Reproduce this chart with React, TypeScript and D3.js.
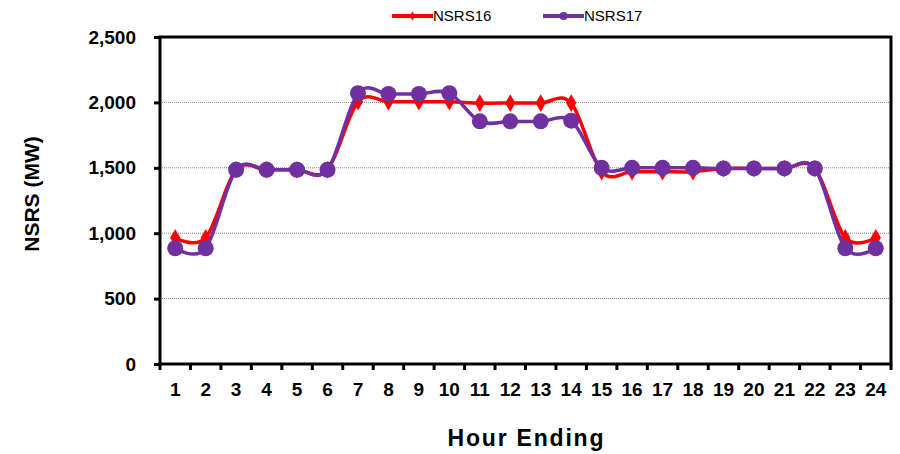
import React, { useEffect, useRef } from 'react';
import * as d3 from 'd3';

const hours = ['1', '2', '3', '4', '5', '6', '7', '8', '9', '10', '11', '12', '13', '14', '15', '16', '17', '18', '19', '20', '21', '22', '23', '24'];
const nsrs16 = [965, 965, 1485, 1485, 1485, 1485, 2005, 2005, 2005, 2005, 1995, 1995, 1995, 1995, 1470, 1470, 1470, 1470, 1495, 1495, 1495, 1495, 965, 965];
const nsrs17 = [885, 885, 1485, 1485, 1485, 1485, 2070, 2065, 2065, 2070, 1855, 1855, 1855, 1860, 1500, 1500, 1500, 1500, 1495, 1495, 1495, 1495, 885, 885];
const yTicks = [0, 500, 1000, 1500, 2000, 2500];

const RED = '#FF0000';
const PURPLE = '#7030A0';

export default function App() {
  const ref = useRef<SVGSVGElement>(null);

  useEffect(() => {
    const W = 900, H = 454;
    const margin = { top: 37, right: 9, bottom: 90, left: 160 };
    const width = W - margin.left - margin.right;
    const height = H - margin.top - margin.bottom;

    const root = d3.select(ref.current);
    root.selectAll('*').remove();
    const font = 'Arial, "Liberation Sans", sans-serif';

    const g = root.append('g').attr('transform', `translate(${margin.left},${margin.top})`);

    const x = d3.scaleBand().domain(hours).range([0, width]);
    const y = d3.scaleLinear().domain([0, 2500]).range([height, 0]);

    // gridlines
    g.selectAll('.grid')
      .data(yTicks.filter(t => t > 0 && t < 2500))
      .enter().append('line')
      .attr('x1', 0).attr('x2', width)
      .attr('y1', d => y(d)).attr('y2', d => y(d))
      .attr('stroke', '#808080')
      .attr('stroke-width', 1)
      .attr('stroke-dasharray', '1,1');

    // frame
    g.append('rect')
      .attr('x', 0).attr('y', 0).attr('width', width).attr('height', height)
      .attr('fill', 'none').attr('stroke', '#000').attr('stroke-width', 3);

    // y axis
    const yAxis = g.append('g').call(
      d3.axisLeft(y).tickValues(yTicks).tickSize(6).tickPadding(18).tickFormat(d3.format(','))
    );
    yAxis.select('.domain').remove();
    yAxis.selectAll('line').attr('stroke', '#000').attr('stroke-width', 3);
    yAxis.selectAll('text')
      .attr('font-family', font).attr('font-size', 19).attr('font-weight', 'bold').attr('fill', '#000');

    // x axis: ticks at band boundaries
    const xg = g.append('g').attr('transform', `translate(0,${height})`);
    const bounds = d3.range(hours.length + 1).map(i => i * x.step());
    xg.selectAll('line')
      .data(bounds)
      .enter().append('line')
      .attr('x1', d => d).attr('x2', d => d)
      .attr('y1', 0).attr('y2', 6)
      .attr('stroke', '#000').attr('stroke-width', 3);
    xg.selectAll('text')
      .data(hours)
      .enter().append('text')
      .attr('x', d => (x(d) ?? 0) + x.bandwidth() / 2)
      .attr('y', 396 - H + margin.bottom)
      .attr('text-anchor', 'middle')
      .attr('font-family', font).attr('font-size', 19).attr('font-weight', 'bold')
      .text(d => d);

    // titles
    root.append('text')
      .attr('x', 525.5)
      .attr('y', 446)
      .attr('text-anchor', 'middle')
      .attr('textLength', 156)
      .attr('lengthAdjust', 'spacing')
      .attr('font-family', font).attr('font-size', 23).attr('font-weight', 'bold')
      .text('Hour Ending');
    root.append('text')
      .attr('transform', `translate(39,194) rotate(-90)`)
      .attr('text-anchor', 'middle')
      .attr('font-family', font).attr('font-size', 21).attr('font-weight', 'bold')
      .text('NSRS (MW)');

    const cx = (i: number) => (x(hours[i]) ?? 0) + x.bandwidth() / 2;
    const line = d3.line<number>()
      .x((_, i) => cx(i))
      .y(d => y(d))
      .curve(d3.curveCatmullRom.alpha(0));

    // NSRS16
    g.append('path').attr('d', line(nsrs16)).attr('fill', 'none').attr('stroke', RED).attr('stroke-width', 3.5);
    g.selectAll('.d16')
      .data(nsrs16)
      .enter().append('path')
      .attr('transform', (d, i) => `translate(${cx(i)},${y(d)})`)
      .attr('d', d3.symbol(d3.symbolDiamond, 90)())
      .attr('fill', RED);

    // NSRS17
    g.append('path').attr('d', line(nsrs17)).attr('fill', 'none').attr('stroke', PURPLE).attr('stroke-width', 3.5);
    g.selectAll('.c17')
      .data(nsrs17)
      .enter().append('circle')
      .attr('cx', (d, i) => cx(i)).attr('cy', d => y(d))
      .attr('r', 8)
      .attr('fill', PURPLE);

    // legend
    const legend = [
      { name: 'NSRS16', color: RED, x0: 392 },
      { name: 'NSRS17', color: PURPLE, x0: 543 },
    ];
    const lg = root.append('g');
    legend.forEach(l => {
      lg.append('line')
        .attr('x1', l.x0).attr('x2', l.x0 + 41)
        .attr('y1', 16).attr('y2', 16)
        .attr('stroke', l.color).attr('stroke-width', 4);
      if (l.name === 'NSRS16') {
        lg.append('path')
          .attr('transform', `translate(${l.x0 + 20.5},16)`)
          .attr('d', d3.symbol(d3.symbolDiamond, 24)())
          .attr('fill', l.color);
      } else {
        lg.append('circle').attr('cx', l.x0 + 20.5).attr('cy', 16).attr('r', 4).attr('fill', l.color);
      }
      lg.append('text')
        .attr('x', l.x0 + 41).attr('y', 21)
        .attr('font-family', font).attr('font-size', 15)
        .text(l.name);
    });
  }, []);

  return <svg ref={ref} width={900} height={454} style={{ display: 'block', position: 'absolute', left: 0, top: 0 }} />;
}
